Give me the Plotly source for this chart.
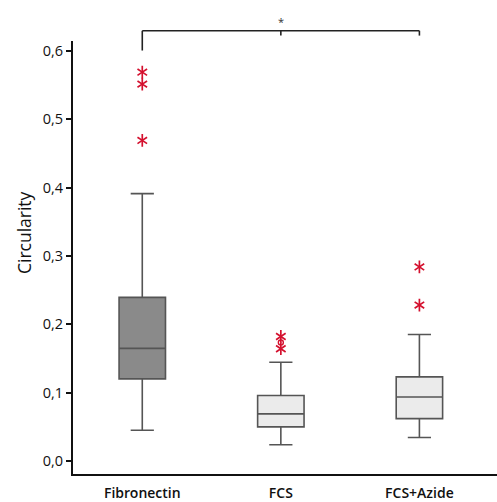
import plotly.graph_objects as go

categories = ["Fibronectin", "FCS", "FCS+Azide"]
q1 = [0.1205, 0.0504, 0.0624]
median = [0.165, 0.0693, 0.0939]
q3 = [0.2395, 0.0962, 0.1234]
lower_whisker = [0.0455, 0.0242, 0.0348]
upper_whisker = [0.391, 0.1447, 0.1853]
box_fill = ["#8a8a8a", "#ebebeb", "#ebebeb"]

# extreme outliers (stars) and mild outliers (circles)
extreme_x = ["Fibronectin", "Fibronectin", "Fibronectin", "FCS", "FCS", "FCS+Azide", "FCS+Azide"]
extreme_y = [0.5685, 0.551, 0.4688, 0.1824, 0.1645, 0.284, 0.2283]
mild_x = ["FCS"]
mild_y = [0.1737]

red = "#d4102e"
font_family = "Open Sans, Noto Sans, sans-serif"

fig = go.Figure()
for i, c in enumerate(categories):
    fig.add_trace(go.Box(
        x=[c], q1=[q1[i]], median=[median[i]], q3=[q3[i]],
        lowerfence=[lower_whisker[i]], upperfence=[upper_whisker[i]],
        fillcolor=box_fill[i], line=dict(color="#555555", width=1.6),
        width=0.335, boxpoints=False, showlegend=False, hoverinfo="skip"
    ))

for sym in ["y-up-open", "y-down-open"]:
    fig.add_trace(go.Scatter(
        x=extreme_x, y=extreme_y, mode="markers",
        marker=dict(symbol=sym, size=8, color=red, line=dict(color=red, width=1.7)),
        showlegend=False, hoverinfo="skip", cliponaxis=False
    ))
fig.add_trace(go.Scatter(
    x=mild_x, y=mild_y, mode="markers",
    marker=dict(symbol="circle-open", size=5, color=red, line=dict(color=red, width=1.4)),
    showlegend=False, hoverinfo="skip"
))

# significance bracket between first and last category
bracket_color = "#222222"
fig.add_shape(type="line", xref="x", yref="paper", x0=0, x1=2, y0=1.0236, y1=1.0236,
              line=dict(color=bracket_color, width=1.6))
fig.add_shape(type="line", xref="x", yref="paper", x0=0, x1=0, y0=1.0236, y1=0.978,
              line=dict(color=bracket_color, width=1.6))
fig.add_shape(type="line", xref="x", yref="paper", x0=2, x1=2, y0=1.0236, y1=1.0125,
              line=dict(color=bracket_color, width=1.6))
fig.add_shape(type="line", xref="x", yref="paper", x0=1, x1=1, y0=1.0236, y1=1.0125,
              line=dict(color=bracket_color, width=1.6))
fig.add_annotation(xref="x", yref="paper", x=1, y=1.0236, text="*", showarrow=False,
                   yanchor="bottom", yshift=0, font=dict(size=11, color="#333333", family=font_family))

fig.add_annotation(xref="paper", yref="paper", x=-0.115, y=0.557, text="Circularity",
                   textangle=-90, showarrow=False, xanchor="center", yanchor="middle",
                   font=dict(size=17.5, color="#111111", family=font_family))

fig.update_layout(
    width=497, height=502,
    margin=dict(l=73, r=0, t=41, b=25),
    plot_bgcolor="white", paper_bgcolor="white",
    separators=",.",
    font=dict(family=font_family, color="#111111"),
    boxmode="overlay",
)
fig.update_xaxes(
    type="category", categoryorder="array", categoryarray=categories,
    range=[-0.5, 2.56], showline=True, linecolor="#111111", linewidth=2,
    ticks="", showgrid=False, zeroline=False,
    tickfont=dict(size=14, family="Open Sans SemiBold, Open Sans, sans-serif", color="#111111"),
    ticklabelstandoff=5,
)
fig.update_yaxes(
    range=[-0.0185, 0.614], tickvals=[0, 0.1, 0.2, 0.3, 0.4, 0.5, 0.6], tickformat=".1f",
    showline=True, linecolor="#111111", linewidth=2, ticks="outside", ticklen=5,
    tickwidth=1.5, tickcolor="#111111", showgrid=False, zeroline=False,
    tickfont=dict(size=14.5, color="#111111"),
)

fig.write_html("out.html")
